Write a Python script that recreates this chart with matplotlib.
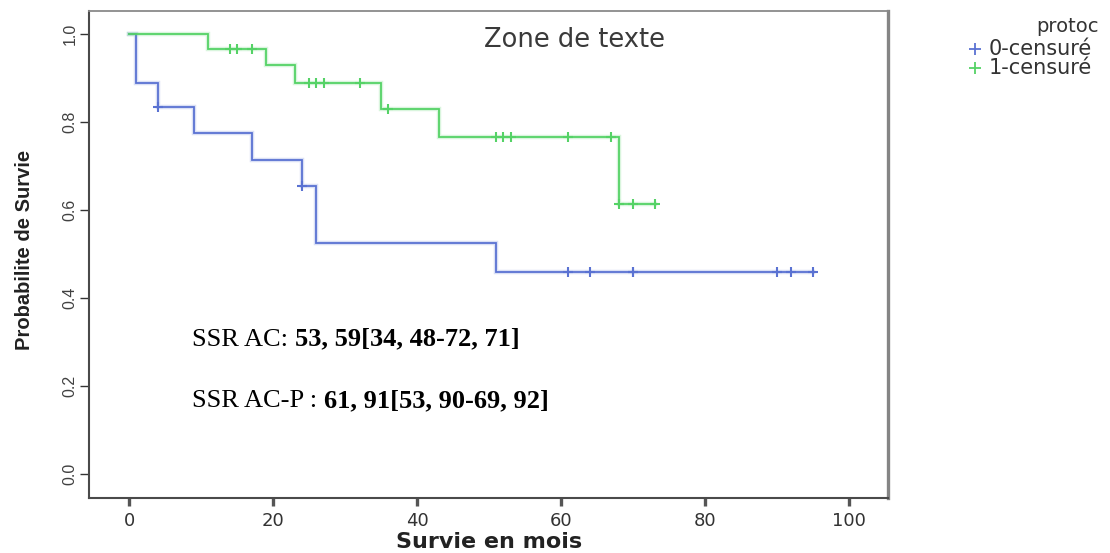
import numpy as np
import matplotlib
matplotlib.use("Agg")
import matplotlib.pyplot as plt
from matplotlib.lines import Line2D

# Kaplan-Meier step data (survival after each event) and censoring times
blue_label = "0-censuré"
blue_event_times = [1, 4, 9, 17, 24, 26, 51]
blue_survival = [0.889, 0.833, 0.774, 0.714, 0.655, 0.524, 0.458]
blue_censored = [4, 24, 61, 64, 70, 70, 90, 92, 95]

green_label = "1-censuré"
green_event_times = [11, 19, 23, 35, 43, 68]
green_survival = [0.966, 0.928, 0.888, 0.829, 0.766, 0.612]
green_censored = [14, 15, 17, 25, 26, 27, 32, 36, 51, 52, 53, 61, 67, 68, 70, 73]

x_ticks = [0, 20, 40, 60, 80, 100]
y_ticks = [0.0, 0.2, 0.4, 0.6, 0.8, 1.0]
y_tick_labels = ["0.0", "0.2", "0.4", "0.6", "0.8", "1.0"]

legend_title = "protoc"
x_title = "Survie en mois"
y_title = "Probabilite de Survie"
note_text = "Zone de texte"
ssr_lines = [("SSR AC: ", "53, 59[34, 48-72, 71]"),
             ("SSR AC-P : ", "61, 91[53, 90-69, 92]")]

BLUE = "#5a72d2"
GREEN = "#55d266"

fig = plt.figure(figsize=(11.1, 5.53), dpi=100)
ax = fig.add_axes([0.0805, 0.100, 0.7192, 0.880])
ax.set_xlim(-5.55, 105.4)
ax.set_ylim(-0.0545, 1.0516)


def km_curve(times, surv, censored):
    end = max(censored + times)
    t = np.array([0] + list(times) + [end], dtype=float)
    s = np.array([1.0] + list(surv) + [surv[-1]], dtype=float)
    c = np.array(censored, dtype=float)
    idx = np.searchsorted(t[:-1], c, side="right") - 1
    return t, s, c, s[idx]


for times, surv, cens, col in [
    (blue_event_times, blue_survival, blue_censored, BLUE),
    (green_event_times, green_survival, green_censored, GREEN),
]:
    t, s, c, cy = km_curve(times, surv, cens)
    # soft halo under the step line
    ax.step(t, s, where="post", color=col, lw=3.2, alpha=0.22,
            solid_joinstyle="miter")
    ax.step(t, s, where="post", color=col, lw=1.3, solid_joinstyle="miter")
    ax.plot(c, cy, linestyle="none", marker="+", color=col,
            markersize=6.5, markeredgewidth=1.5)

# frame
for side in ("left", "bottom"):
    ax.spines[side].set_color("#4a4a4a")
    ax.spines[side].set_linewidth(1.5)
ax.spines["top"].set_color("#8a8a8a")
ax.spines["top"].set_linewidth(1.3)
ax.spines["right"].set_color("#858585")
ax.spines["right"].set_linewidth(2.4)

ax.set_xticks(x_ticks)
ax.set_xticklabels([str(v) for v in x_ticks])
ax.set_yticks(y_ticks)
ax.set_yticklabels(y_tick_labels, rotation=90, va="center",
                   family="Liberation Sans", fontsize=11.5, color="#404040")
ax.tick_params(axis="x", length=6, width=2.4, color="#555555",
               labelsize=13, labelcolor="#333333", pad=4)
ax.tick_params(axis="y", length=6.5, width=1.0, color="#333333", pad=2)
for lab in ax.get_xticklabels():
    lab.set_family("DejaVu Sans")

# axis titles
fig.text(489 / 1110, 1 - 542 / 553, x_title, ha="center", va="center",
         fontsize=16, fontweight="bold", family="DejaVu Sans",
         color="#222222")
fig.text(25 / 1110, 1 - 249.5 / 553, y_title, ha="center", va="center",
         rotation=90, fontsize=14.5, fontweight="bold",
         family="Liberation Sans", color="#222222")

# text box inside the plot
ax.text(61.9, 0.986, note_text, ha="center", va="center", fontsize=18.5,
        family="DejaVu Sans", color="#3a3a3a")

# median survival annotations (regular prefix + bold values)
for (prefix, values), ypos in zip(ssr_lines, [0.291, 0.151]):
    t1 = ax.text(8.71, ypos, prefix, ha="left", va="baseline",
                 fontsize=19, family="Liberation Serif", color="black")
    ax.annotate(values, xy=(1, 0), xycoords=t1, ha="left", va="bottom",
                fontsize=19, family="Liberation Serif",
                fontweight="bold", color="black")

# legend
fig.text(1068 / 1110, 1 - 27 / 553, legend_title, ha="center", va="center",
         fontsize=14, family="DejaVu Sans", color="#333333")
for lab, col, ypx in [(blue_label, BLUE, 49), (green_label, GREEN, 68)]:
    yf = 1 - ypx / 553
    fig.add_artist(Line2D([975 / 1110], [yf], transform=fig.transFigure,
                          marker="+", markersize=9, markeredgewidth=1.3,
                          color=col, linestyle="none"))
    fig.text(989 / 1110, yf, lab, ha="left", va="center", fontsize=15,
             family="DejaVu Sans", color="#333333")

fig.savefig("out.png", dpi=100, facecolor="white")
